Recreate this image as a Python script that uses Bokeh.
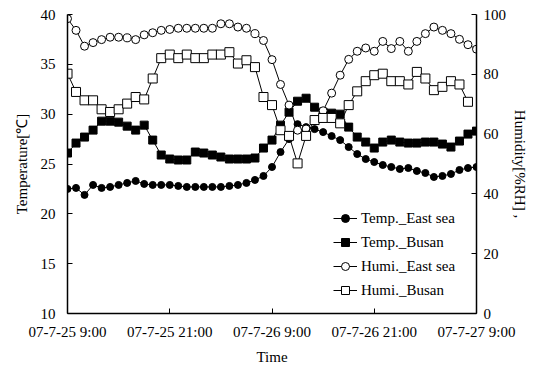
from bokeh.plotting import figure
from bokeh.models import (ColumnDataSource, Range1d, LinearAxis, FixedTicker,
                          Legend, LegendItem)
from bokeh.embed import file_html
from bokeh.resources import INLINE

# ---- data (hourly, 07-7-25 9:00 .. 07-7-27 9:00) ----
hours = list(range(49))
tick_hours = [0, 12, 24, 36, 48]
tick_labels = ["07-7-25 9:00", "07-7-25 21:00", "07-7-26 9:00",
               "07-7-26 21:00", "07-7-27 9:00"]

temp_east = [22.5, 22.6, 21.9, 22.9, 22.6, 22.7, 22.9, 23.1, 23.3, 23.0,
             22.9, 22.9, 22.9, 22.8, 22.7, 22.7, 22.7, 22.7, 22.7, 22.8,
             22.9, 23.1, 23.4, 23.8, 24.7, 26.2, 27.5, 29.0, 28.7, 28.5,
             28.2, 27.8, 27.4, 26.7, 26.0, 25.5, 25.2, 24.9, 24.7, 24.5,
             24.6, 24.3, 24.1, 23.7, 23.8, 24.0, 24.4, 24.6, 24.7]
temp_busan = [26.1, 27.1, 27.7, 28.4, 29.3, 29.3, 29.2, 28.8, 28.4, 28.9,
              27.4, 25.9, 25.5, 25.4, 25.4, 26.2, 26.1, 25.9, 25.7, 25.5,
              25.5, 25.5, 25.6, 26.6, 27.4, 28.9, 30.2, 31.3, 31.6, 30.7,
              30.2, 30.1, 30.0, 28.7, 27.7, 27.2, 26.6, 27.2, 27.4, 27.2,
              27.1, 27.1, 27.2, 27.2, 27.0, 26.7, 27.3, 28.0, 28.3]
humi_east = [98.6, 94.7, 89.4, 90.6, 91.6, 92.4, 92.4, 92.2, 91.6, 93.2,
             93.9, 94.7, 95.0, 95.4, 95.4, 95.4, 95.4, 95.4, 96.9, 96.9,
             95.8, 95.4, 93.6, 91.3, 84.9, 76.6, 69.7, 61.3, 61.7, 64.5,
             67.8, 73.7, 79.7, 85.0, 87.7, 88.8, 87.7, 91.0, 88.6, 91.0,
             87.7, 91.0, 93.6, 95.8, 94.7, 93.6, 91.7, 89.9, 88.4]
humi_busan = [80.2, 74.1, 71.3, 71.3, 68.3, 67.4, 68.3, 70.2, 72.4, 71.6,
              78.6, 85.4, 86.6, 85.4, 86.6, 85.4, 85.4, 86.6, 86.6, 87.4,
              83.6, 84.7, 82.4, 72.4, 69.7, 61.3, 59.4, 50.2, 59.4, 64.7,
              65.4, 65.4, 63.6, 69.7, 74.3, 77.7, 79.7, 80.2, 77.7, 77.7,
              76.6, 80.8, 78.6, 74.7, 75.8, 77.7, 76.6, 70.8]
hours_busan_h = hours[:len(humi_busan)]

FONT = "Liberation Serif"
FS = "15px"

src = ColumnDataSource(dict(h=hours, te=temp_east, tb=temp_busan, he=humi_east))
src_hb = ColumnDataSource(dict(h=hours_busan_h, hb=humi_busan))

p = figure(width=539, height=368, x_range=Range1d(0, 48), y_range=Range1d(10, 40),
           output_backend="svg", toolbar_location=None,
           min_border_left=67, min_border_right=63, min_border_top=14,
           min_border_bottom=55)
p.extra_y_ranges = {"hum": Range1d(0, 100)}
p.grid.visible = False
p.outline_line_color = None
p.background_fill_color = "white"
p.border_fill_color = "white"

r1l = p.line("h", "te", source=src, line_color="black", line_width=1)
r1s = p.scatter("h", "te", source=src, marker="circle", size=7,
                fill_color="black", line_color="black")
r2l = p.line("h", "tb", source=src, line_color="black", line_width=1)
r2s = p.scatter("h", "tb", source=src, marker="square", size=8,
                fill_color="black", line_color="black")
r3l = p.line("h", "he", source=src, line_color="black", line_width=1,
             y_range_name="hum")
r3s = p.scatter("h", "he", source=src, marker="circle", size=8,
                fill_color="white", line_color="black", y_range_name="hum")
r4l = p.line("h", "hb", source=src_hb, line_color="black", line_width=1,
             y_range_name="hum")
r4s = p.scatter("h", "hb", source=src_hb, marker="square", size=9,
                fill_color="white", line_color="black", y_range_name="hum")

right = LinearAxis(y_range_name="hum")
p.add_layout(right, "right")

for ax in [p.xaxis[0], p.yaxis[0], right]:
    ax.major_label_text_font = FONT
    ax.major_label_text_font_size = FS
    ax.major_label_text_color = "black"
    ax.axis_label_text_font = FONT
    ax.axis_label_text_font_size = FS
    ax.axis_label_text_font_style = "normal"
    ax.axis_label_text_color = "black"
    ax.axis_line_color = "black"
    ax.axis_line_width = 1.5
    ax.major_tick_line_color = "black"
    ax.major_tick_in = 5
    ax.major_tick_out = 0
    ax.minor_tick_line_color = None

p.xaxis[0].ticker = FixedTicker(ticks=tick_hours)
p.xaxis[0].major_label_overrides = {h: l for h, l in zip(tick_hours, tick_labels)}
p.xaxis[0].axis_label = "Time"
p.xaxis[0].major_label_standoff = 10
p.xaxis[0].axis_label_standoff = 6

p.yaxis[0].ticker = FixedTicker(ticks=[10, 15, 20, 25, 30, 35, 40])
p.yaxis[0].axis_label = "Temperature[℃]"
p.yaxis[0].major_label_standoff = 12
p.yaxis[0].axis_label_standoff = 8

right.ticker = FixedTicker(ticks=[0, 20, 40, 60, 80, 100])
right.axis_label = "Humidity[%RH] ,"
right.major_label_standoff = 7
right.axis_label_standoff = 3

legend = Legend(items=[
    LegendItem(label="Temp._East sea", renderers=[r1l, r1s]),
    LegendItem(label="Temp._Busan", renderers=[r2l, r2s]),
    LegendItem(label="Humi._East sea", renderers=[r3l, r3s]),
    LegendItem(label="Humi._Busan", renderers=[r4l, r4s]),
], location=(266, 13))
legend.label_text_font = FONT
legend.label_text_font_size = FS
legend.label_text_color = "black"
legend.border_line_alpha = 0
legend.background_fill_alpha = 0
legend.padding = 0
legend.margin = 0
legend.spacing = 4
legend.glyph_width = 24
legend.label_standoff = 4
legend.label_height = 20
legend.glyph_height = 20
p.add_layout(legend, "center")

open("out.html", "w").write(file_html(p, INLINE))
